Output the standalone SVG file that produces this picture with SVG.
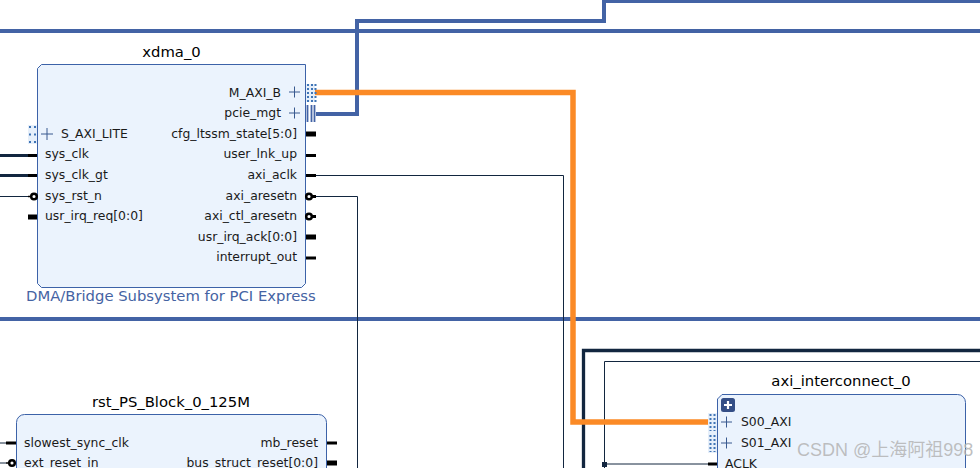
<svg xmlns="http://www.w3.org/2000/svg" width="980" height="468" viewBox="0 0 980 468">
<defs>
<style>
text{font-family:"DejaVu Sans",sans-serif;font-size:12.4px;fill:#1a1a1a}
.t{font-size:14.800px;text-anchor:middle;fill:#000}
.r{text-anchor:end}
.sub{font-size:14.800px;fill:#4563a3}
.box{fill:#ebf3fd;stroke:#3c62a8;stroke-width:1}
.blue{fill:none;stroke:#4363a5;stroke-width:4}
.org{fill:none;stroke:#fb8a26;stroke-width:5.500}
.navy{fill:none;stroke:#12263f;stroke-width:3.300}
.thin{fill:none;stroke:#12263f;stroke-width:1}
.pin{stroke:#000;stroke-width:3;fill:none}
.pinf{stroke:#000;stroke-width:5;fill:none}
.pl{stroke:#38598f;stroke-width:1;fill:none}
.bus{fill:#e6effa}
.dots{fill:none;stroke:#3f74b5;stroke-width:2;stroke-dasharray:2 2}
.ring{fill:#fff;stroke:#000;stroke-width:2.500}
</style>
</defs>
<g id="connectors">
<path class="blue" d="M0 31H980"/>
<path class="blue" d="M0 319H980"/>
<path class="blue" d="M316 114H357V21H604V1H980"/>
<path class="thin" d="M316 175.500H563.500V468"/>
<path class="thin" d="M316 196.500H357.500V468"/>
<path class="navy" d="M583.500 468V350.500H980"/>
<path class="thin" d="M604.500 468V361.500H980"/>
<path class="thin" d="M604 464H710"/>
<rect x="602" y="462" width="5" height="5" fill="#12263f"/>
<path class="org" d="M315 92.500H573V422H708"/>
<path class="navy" style="stroke-width:3" d="M0 155.500H28"/>
<path class="navy" style="stroke-width:3" d="M0 175.500H28"/>
<path class="thin" d="M0 196.500H28"/>
<path class="thin" d="M0 443H6"/>
<path class="thin" d="M0 463H6"/>
</g>
<g id="xdma_0">
<text class="t" x="171.500" y="57">xdma_0</text>
<path class="box" d="M41.500 64.500H305.500V283.500L301.500 287.500H41.500L37.500 283.500V68.500Z"/>
<text class="sub" x="26" y="301">DMA/Bridge Subsystem for PCI Express</text>
<rect class="bus" x="28" y="125" width="9" height="19"/>
<path class="dots" style="stroke-dasharray:2 5.500" d="M30 126V144M35 126V144"/>
<path class="pl" d="M41 134H53M47 128V140"/>
<text x="61" y="138">S_AXI_LITE</text>
<path class="pinf" style="stroke-width:3" d="M28 155.500H37"/>
<text x="45" y="158">sys_clk</text>
<path class="pinf" style="stroke-width:3" d="M28 175.500H37"/>
<text x="45" y="179">sys_clk_gt</text>
<path class="pin" style="stroke-width:1.500" d="M28 196.500H31"/>
<circle class="ring" cx="34" cy="196.500" r="2.800"/>
<text x="45" y="200">sys_rst_n</text>
<path class="pinf" d="M28 217H37"/>
<text x="45" y="220">usr_irq_req[0:0]</text>
<text class="r" x="281" y="97">M_AXI_B</text>
<path class="pl" d="M289 92H300M294.500 86.500V97.500"/>
<rect class="bus" x="306" y="84" width="9" height="18"/>
<path class="dots" d="M308 84V102M312 84V102M315.500 84V102"/>
<text class="r" x="281" y="117">pcie_mgt</text>
<path class="pl" d="M289 113H300M294.500 107.500V118.500"/>
<path d="M307.500 105V122M311.500 105V122M314.500 105V122" fill="none" stroke="#4363a5" stroke-width="1.800"/>
<text class="r" x="297" y="138">cfg_ltssm_state[5:0]</text>
<path class="pinf" d="M306 134H316"/>
<text class="r" x="297" y="158">user_lnk_up</text>
<path class="pin" d="M306 155.500H316"/>
<text class="r" x="297" y="179">axi_aclk</text>
<path class="pin" d="M306 175.500H316"/>
<text class="r" x="297" y="200">axi_aresetn</text>
<circle class="ring" cx="309" cy="196.500" r="2.800"/>
<path class="pin" d="M312 196.500H316"/>
<text class="r" x="297" y="220">axi_ctl_aresetn</text>
<circle class="ring" cx="309" cy="216.500" r="2.800"/>
<path class="pin" d="M312 216.500H316"/>
<text class="r" x="297" y="241">usr_irq_ack[0:0]</text>
<path class="pinf" d="M306 237H316"/>
<text class="r" x="297" y="261">interrupt_out</text>
<path class="pin" d="M306 258H316"/>
</g>
<g id="rst_PS_Block_0_125M">
<text class="t" x="171" y="407">rst_PS_Block_0_125M</text>
<rect class="box" x="16.500" y="414.500" width="310" height="70" rx="8"/>
<path class="pin" d="M6 443H16"/>
<text x="24" y="447">slowest_sync_clk</text>
<path class="pin" style="stroke-width:1.500" d="M6 463H9"/>
<circle class="ring" cx="12" cy="463" r="2.800"/>
<text x="24" y="467">ext_reset_in</text>
<text class="r" x="318" y="447">mb_reset</text>
<path class="pin" d="M327 443H337"/>
<text class="r" x="318" y="467">bus_struct_reset[0:0]</text>
<path class="pinf" d="M327 463H337"/>
</g>
<g id="axi_interconnect_0">
<text class="t" x="841" y="386">axi_interconnect_0</text>
<path class="box" d="M722 394.500H957.500A8 8 0 0 1 965.500 402.500V480H717.500V399Z"/>
<rect x="721" y="398" width="14" height="14" rx="2.500" fill="#344e86"/>
<path d="M724 405H732M728 401V409" stroke="#fff" stroke-width="2.200" fill="none"/>
<rect class="bus" x="708" y="413" width="9" height="40"/>
<path class="dots" d="M710.500 414V431M714.500 414V431M710.500 435V452M714.500 435V452"/>
<path class="pl" d="M721 422H732M726.500 416.500V427.500"/>
<text x="741" y="426">S00_AXI</text>
<path class="pl" d="M721 443H732M726.500 437.500V448.500"/>
<text x="741" y="447">S01_AXI</text>
<path class="pin" d="M708 464H717"/>
<text x="725" y="468">ACLK</text>
</g>
<text id="watermark" x="797" y="456" style="font-family:'Liberation Sans','Noto Sans CJK SC',sans-serif;font-size:18px;fill:#b4b4b4;fill-opacity:.85">CSDN @上海阿祖998</text>
</svg>
